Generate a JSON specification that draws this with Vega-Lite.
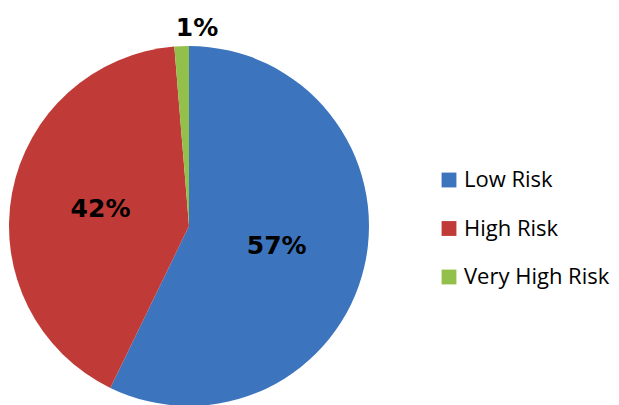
{
  "$schema": "https://vega.github.io/schema/vega-lite/v6.json",
  "width": 378,
  "height": 452,
  "padding": 0,
  "background": "white",
  "config": {"view": {"stroke": null}},
  "data": {
    "values": [
      {"category": "Low Risk", "value": 57.2, "label": "57%", "order": 1},
      {"category": "High Risk", "value": 41.5, "label": "42%", "order": 2},
      {"category": "Very High Risk", "value": 1.3, "label": "1%", "order": 3}
    ]
  },
  "encoding": {
    "theta": {"field": "value", "type": "quantitative", "stack": true},
    "order": {"field": "order", "type": "quantitative"}
  },
  "layer": [
    {
      "mark": {"type": "arc", "outerRadius": 180},
      "encoding": {
        "color": {
          "field": "category",
          "type": "nominal",
          "sort": ["Low Risk", "High Risk", "Very High Risk"],
          "scale": {"domain": ["Low Risk", "High Risk", "Very High Risk"], "range": ["#3C75BE", "#C03B37", "#93C04A"]},
          "legend": {
            "title": null,
            "orient": "none",
            "legendX": 438,
            "legendY": 169,
            "symbolType": "square",
            "symbolSize": 220,
            "symbolStrokeWidth": 0,
            "labelFont": "Open Sans",
            "labelFontSize": 22,
            "labelColor": "#000000",
            "labelOffset": 4,
            "rowPadding": 26.5
          }
        }
      }
    },
    {
      "transform": [{"filter": "datum.order < 3"}],
      "mark": {"type": "text", "radius": 90, "font": "DejaVu Sans", "fontWeight": "bold", "fontSize": 25, "color": "#000000"},
      "encoding": {"text": {"field": "label"}}
    },
    {
      "transform": [{"filter": "datum.order == 3"}],
      "mark": {"type": "text", "radius": 198, "font": "DejaVu Sans", "fontWeight": "bold", "fontSize": 25, "color": "#000000"},
      "encoding": {"text": {"field": "label"}}
    }
  ]
}
